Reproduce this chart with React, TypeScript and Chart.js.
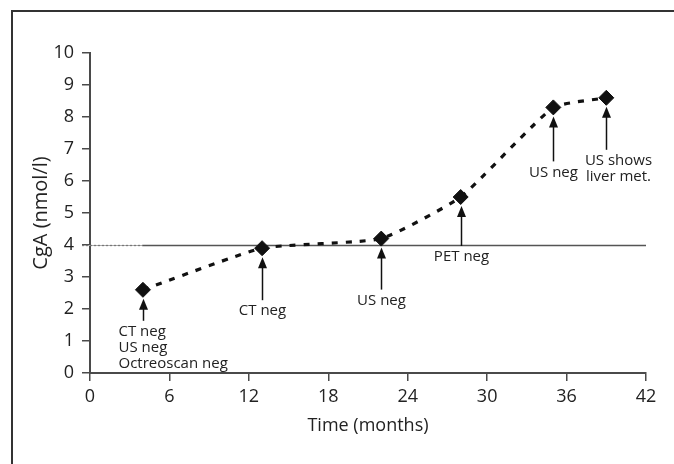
import React, { useEffect, useRef } from "react";
import { Chart, registerables } from "chart.js";

Chart.register(...registerables);

const months = [4, 13, 22, 28, 35, 39];
const cgaValues = [2.6, 3.9, 4.2, 5.5, 8.3, 8.6];
const annotationLabels: string[][] = [
  ["CT neg", "US neg", "Octreoscan neg"],
  ["CT neg"],
  ["US neg"],
  ["PET neg"],
  ["US neg"],
  ["US shows", "liver met."],
];
const referenceLevel = 4;
const xTicks = [0, 6, 12, 18, 24, 30, 36, 42];
const yTicks = [0, 1, 2, 3, 4, 5, 6, 7, 8, 9, 10];

const FONT = "'Open Sans', 'DejaVu Sans', sans-serif";
const AXIS_COLOR = "#4a4a4a";

// pixel styling for annotation arrows (length, label x shift, label alignment)
const arrowLengths = [22, 43, 42, 40, 45, 43];
const labelShift = [-25, 0, 0, 0, 0, 12];
const labelAlign: CanvasTextAlign[] = ["left", "center", "center", "center", "center", "center"];

const refLinePlugin = {
  id: "refLine",
  beforeDatasetsDraw(chart: any) {
    const ctx = chart.ctx;
    const xs = chart.scales.x;
    const ys = chart.scales.y;
    const y = Math.round(ys.getPixelForValue(referenceLevel)) + 0.5;
    ctx.save();
    ctx.strokeStyle = "#aaa";
    ctx.lineWidth = 1;
    ctx.beginPath();
    ctx.moveTo(xs.getPixelForValue(0) - 8, y);
    ctx.lineTo(xs.getPixelForValue(months[0]), y);
    ctx.stroke();
    ctx.strokeStyle = "#777";
    ctx.lineWidth = 1.3;
    ctx.setLineDash([2, 2]);
    ctx.beginPath();
    ctx.moveTo(xs.getPixelForValue(0) - 8, y);
    ctx.lineTo(xs.getPixelForValue(months[0]), y);
    ctx.stroke();
    ctx.setLineDash([]);
    ctx.strokeStyle = "#555";
    ctx.beginPath();
    ctx.moveTo(xs.getPixelForValue(months[0]), y);
    ctx.lineTo(xs.getPixelForValue(42), y);
    ctx.stroke();
    ctx.restore();
  },
};

const arrowPlugin = {
  id: "arrows",
  afterDatasetsDraw(chart: any) {
    const ctx = chart.ctx;
    const xs = chart.scales.x;
    const ys = chart.scales.y;
    ctx.save();
    months.forEach((m, i) => {
      const px = Math.round(xs.getPixelForValue(m)) + 0.5;
      const py = ys.getPixelForValue(cgaValues[i]);
      const tip = py + 9;
      const tail = tip + arrowLengths[i];
      ctx.strokeStyle = "#111";
      ctx.fillStyle = "#111";
      ctx.lineWidth = 1.5;
      ctx.beginPath();
      ctx.moveTo(px, tip + 6);
      ctx.lineTo(px, tail);
      ctx.stroke();
      ctx.beginPath();
      ctx.moveTo(px, tip);
      ctx.lineTo(px - 4.5, tip + 11);
      ctx.lineTo(px + 4.5, tip + 11);
      ctx.closePath();
      ctx.fill();
      ctx.font = `15px ${FONT}`;
      ctx.textAlign = labelAlign[i];
      ctx.textBaseline = "middle";
      ctx.fillStyle = "#222";
      annotationLabels[i].forEach((line, j) => {
        ctx.fillText(line, px + labelShift[i], tail + 11 + j * 16);
      });
    });
    ctx.restore();
  },
};

export default function App() {
  const ref = useRef<HTMLCanvasElement | null>(null);
  useEffect(() => {
    document.body.style.margin = "0";
    if (!ref.current) return;
    const chart = new Chart(ref.current, {
      type: "line",
      data: {
        datasets: [
          {
            data: months.map((m, i) => ({ x: m, y: cgaValues[i] })),
            borderColor: "#111",
            borderWidth: 3.2,
            borderDash: [6, 8],
            tension: 0.15,
            pointStyle: "rectRot",
            pointRadius: 7.5,
            pointBackgroundColor: "#111",
            pointBorderColor: "#111",
            pointBorderWidth: 1,
          },
        ],
      },
      options: {
        responsive: false,
        animation: false,
        layout: { padding: { left: 0, top: 53, right: 28, bottom: 0 } },
        plugins: { legend: { display: false }, tooltip: { enabled: false } },
        scales: {
          x: {
            type: "linear",
            min: 0,
            max: 42,
            afterBuildTicks(scale: any) {
              scale.ticks = xTicks.map((v) => ({ value: v }));
            },
            afterFit(scale: any) {
              scale.height = 91;
            },
            grid: {
              drawOnChartArea: false,
              drawTicks: true,
              tickLength: 8,
              color: AXIS_COLOR,
              lineWidth: 1.5,
            },
            border: { color: AXIS_COLOR, width: 2 },
            ticks: {
              color: "#222",
              font: { family: FONT, size: 18 },
              padding: 5,
              maxRotation: 0,
            },
            title: {
              display: true,
              text: "Time (months)",
              color: "#222",
              font: { family: FONT, size: 18 },
              padding: { top: 0, bottom: 27 },
            },
          },
          y: {
            type: "linear",
            min: 0,
            max: 10,
            afterBuildTicks(scale: any) {
              scale.ticks = yTicks.map((v) => ({ value: v }));
            },
            afterFit(scale: any) {
              scale.width = 90;
            },
            grid: {
              drawOnChartArea: false,
              drawTicks: true,
              tickLength: 8,
              color: AXIS_COLOR,
              lineWidth: 1.5,
            },
            border: { color: AXIS_COLOR, width: 2 },
            ticks: {
              color: "#222",
              font: { family: FONT, size: 18 },
              padding: 8,
            },
            title: {
              display: true,
              text: "CgA (nmol/l)",
              color: "#222",
              font: { family: FONT, size: 20 },
              padding: { top: 29, bottom: 0 },
            },
          },
        },
      },
      plugins: [refLinePlugin, arrowPlugin],
    } as any);
    return () => chart.destroy();
  }, []);
  return (
    <div style={{ position: "absolute", left: 0, top: 0, width: 674, height: 464, background: "#fff", overflow: "hidden" }}>
      <div
        style={{
          position: "absolute",
          left: 11,
          top: 10,
          width: 700,
          height: 500,
          borderLeft: "2px solid #333",
          borderTop: "2px solid #333",
          boxSizing: "border-box",
        }}
      />
      <canvas ref={ref} width={674} height={464} style={{ position: "absolute", left: 0, top: 0, width: 674, height: 464 }} />
    </div>
  );
}
